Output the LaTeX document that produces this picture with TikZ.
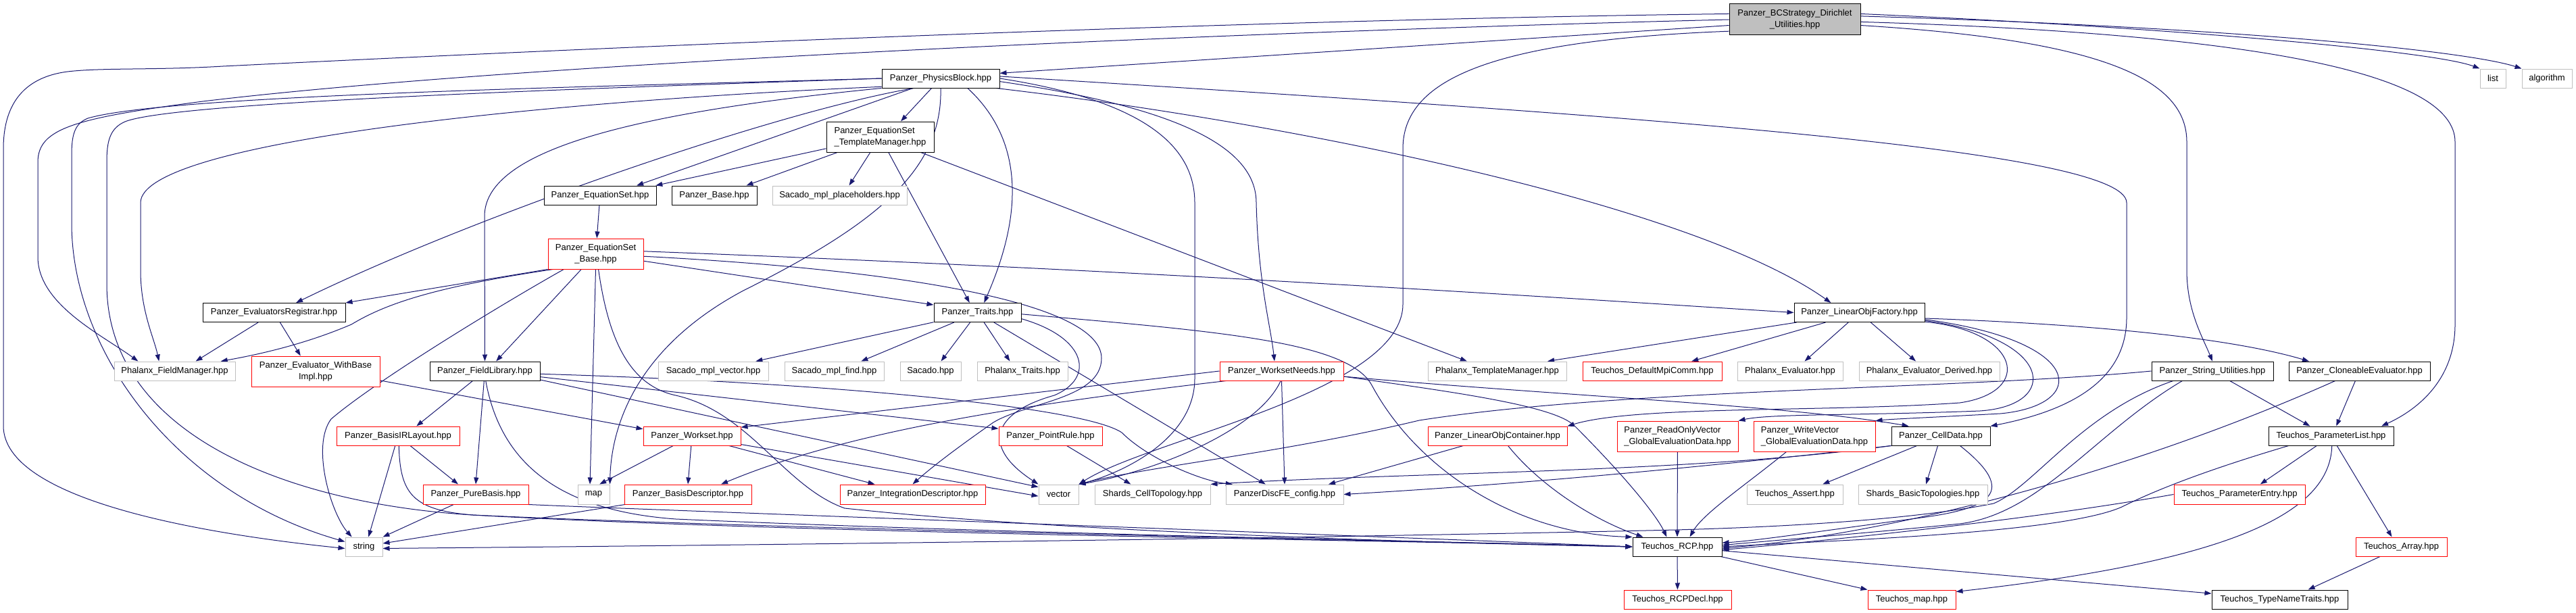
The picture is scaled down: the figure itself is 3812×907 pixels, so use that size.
\documentclass[tikz,border=0pt]{standalone}
\usepackage{fontspec}
\setmainfont{Liberation Sans}
\usetikzlibrary{arrows.meta}
\definecolor{edgec}{HTML}{191970}
\definecolor{grayb}{HTML}{BFBFBF}
\pgfdeclarelayer{back}
\pgfdeclarelayer{edges}
\pgfsetlayers{back,edges,main}
\begin{document}
\begin{tikzpicture}[x=1pt,y=-1pt,
  nd/.style={draw, line width=1pt, inner sep=0pt, minimum height=28pt, font=\fontsize{13}{17}\selectfont, align=center, fill=white},
  bk/.style={nd, draw=black},
  rd/.style={nd, draw=red},
  gy/.style={nd, draw=grayb},
  arr/.style={draw=edgec, line width=1pt, -{Triangle[length=10pt,width=7pt]}}]
\begin{pgfonlayer}{back}
\fill[white] (0,0) rectangle (3812,907);
\end{pgfonlayer}
% row 0
\node[bk, fill=grayb, minimum width=194pt, minimum height=46pt] (R) at (2656,29) {Panzer\_BCStrategy\_Dirichlet\\\_Utilities.hpp};
% row 1
\node[bk, minimum width=174pt] (PB) at (1392,116) {Panzer\_PhysicsBlock.hpp};
\node[gy, minimum width=38pt] (list) at (3689,116) {list};
\node[gy, minimum width=74pt] (algorithm) at (3769,116) {algorithm};
% row 2
\node[bk, minimum width=159pt, minimum height=45pt, align=left] (TM) at (1302.5,202.5) {Panzer\_EquationSet\\\_TemplateManager.hpp};
% row 3
\node[bk, minimum width=166pt] (ES) at (888,289) {Panzer\_EquationSet.hpp};
\node[bk, minimum width=126pt] (PBase) at (1057,289) {Panzer\_Base.hpp};
\node[gy, minimum width=199pt] (SMP) at (1242.5,289) {Sacado\_mpl\_placeholders.hpp};
% row 4
\node[rd, minimum width=141pt, minimum height=45pt] (ESB) at (881.5,375.5) {Panzer\_EquationSet\\\_Base.hpp};
% row 5
\node[bk, minimum width=211pt] (ER) at (405.5,462.5) {Panzer\_EvaluatorsRegistrar.hpp};
\node[bk, minimum width=129pt] (Traits) at (1446.5,462.5) {Panzer\_Traits.hpp};
\node[bk, minimum width=193pt] (LOF) at (2751.5,462.5) {Panzer\_LinearObjFactory.hpp};
% row 6
\node[gy, minimum width=179pt] (FM) at (258.5,549) {Phalanx\_FieldManager.hpp};
\node[rd, minimum width=190pt, minimum height=45pt] (EWB) at (467,549.5) {Panzer\_Evaluator\_WithBase\\Impl.hpp};
\node[bk, minimum width=163pt] (FL) at (717.5,549) {Panzer\_FieldLibrary.hpp};
\node[gy, minimum width=163pt] (SMV) at (1055.5,549) {Sacado\_mpl\_vector.hpp};
\node[gy, minimum width=147pt] (SMF) at (1234.5,549) {Sacado\_mpl\_find.hpp};
\node[gy, minimum width=90pt] (Sacado) at (1377,549) {Sacado.hpp};
\node[gy, minimum width=134pt] (PT) at (1513,549) {Phalanx\_Traits.hpp};
\node[rd, minimum width=183pt] (WN) at (1896.5,549) {Panzer\_WorksetNeeds.hpp};
\node[gy, minimum width=205pt] (PTM) at (2215.5,549) {Phalanx\_TemplateManager.hpp};
\node[rd, minimum width=206pt] (DMC) at (2445,549) {Teuchos\_DefaultMpiComm.hpp};
\node[gy, minimum width=156pt] (PE) at (2649,549) {Phalanx\_Evaluator.hpp};
\node[gy, minimum width=208pt] (PED) at (2855,549) {Phalanx\_Evaluator\_Derived.hpp};
\node[bk, minimum width=180pt] (SU) at (3274,549) {Panzer\_String\_Utilities.hpp};
\node[bk, minimum width=209pt] (CE) at (3491.5,549) {Panzer\_CloneableEvaluator.hpp};
% row 7
\node[rd, minimum width=182pt] (BIR) at (589,645) {Panzer\_BasisIRLayout.hpp};
\node[rd, minimum width=144pt] (WS) at (1024,645) {Panzer\_Workset.hpp};
\node[rd, minimum width=153pt] (PR) at (1554.5,645) {Panzer\_PointRule.hpp};
\node[rd, minimum width=206pt] (LOC) at (2216,645) {Panzer\_LinearObjContainer.hpp};
\node[rd, minimum width=179pt, minimum height=45pt, align=left] (RO) at (2482.5,645.5) {Panzer\_ReadOnlyVector\\\_GlobalEvaluationData.hpp};
\node[rd, minimum width=180pt, minimum height=45pt, align=left] (WV) at (2685,645.5) {Panzer\_WriteVector\\\_GlobalEvaluationData.hpp};
\node[bk, minimum width=146pt] (CD) at (2872,645) {Panzer\_CellData.hpp};
\node[bk, minimum width=185pt] (PL) at (3449.5,645) {Teuchos\_ParameterList.hpp};
% row 8
\node[rd, minimum width=156pt, minimum height=29pt] (PBas) at (704,731.5) {Panzer\_PureBasis.hpp};
\node[gy, minimum width=47pt, minimum height=29pt] (map) at (878.5,731.5) {map};
\node[rd, minimum width=188pt, minimum height=29pt] (BD) at (1018,731.5) {Panzer\_BasisDescriptor.hpp};
\node[rd, minimum width=215pt, minimum height=29pt] (ID) at (1350.5,731.5) {Panzer\_IntegrationDescriptor.hpp};
\node[gy, minimum width=59pt, minimum height=29pt] (vector) at (1566.5,731.5) {vector};
\node[gy, minimum width=171pt, minimum height=29pt] (SCT) at (1705.5,731.5) {Shards\_CellTopology.hpp};
\node[gy, minimum width=174pt, minimum height=29pt] (DFE) at (1901,731.5) {PanzerDiscFE\_config.hpp};
\node[gy, minimum width=142pt, minimum height=29pt] (TA) at (2656,731.5) {Teuchos\_Assert.hpp};
\node[gy, minimum width=191pt, minimum height=29pt] (SBT) at (2845.5,731.5) {Shards\_BasicTopologies.hpp};
\node[rd, minimum width=194pt, minimum height=29pt] (PEn) at (3314,731.5) {Teuchos\_ParameterEntry.hpp};
% row 9
\node[gy, minimum width=55pt] (string) at (538.5,809) {string};
\node[bk, minimum width=132pt] (RCP) at (2482,809) {Teuchos\_RCP.hpp};
\node[rd, minimum width=135pt] (Arr) at (3553.5,809) {Teuchos\_Array.hpp};
% row 10
\node[rd, minimum width=159pt] (RCPD) at (2482.5,887) {Teuchos\_RCPDecl.hpp};
\node[rd, minimum width=130pt] (TMap) at (2829,887) {Teuchos\_map.hpp};
\node[bk, minimum width=201pt] (TNT) at (3373.5,887) {Teuchos\_TypeNameTraits.hpp};

\begin{pgfonlayer}{edges}
% root
\draw[arr] (R.185) -- (PB.5);
\draw[arr] (R.175) .. controls (1800,30) and (900,70) .. (330,98) .. controls (230,104) and (150,100) .. (100,106) .. controls (30,115) and (5,160) .. (5,220) -- (5,630) .. controls (5,740) and (300,790) .. (string.185);
\draw[arr] (R.180) .. controls (1900,45) and (800,90) .. (300,150) .. controls (110,175) and (56,190) .. (56,240) -- (56,380) .. controls (56,450) and (150,495) .. (FM.165);
\draw[arr] (R.190) .. controls (2200,60) and (2076,120) .. (2076,220) -- (2076,450) .. controls (2076,580) and (1700,650) .. (vector.north east);
\draw[arr] (R.5) .. controls (3200,40) and (3600,75) .. (list.north west);
\draw[arr] (R.3) .. controls (3300,40) and (3650,75) .. (algorithm.north west);
\draw[arr] (R.355) .. controls (3120,60) and (3236,120) .. (3236,210) -- (3236,400) .. controls (3236,460) and (3260,500) .. (SU.north);
\draw[arr] (R.358) .. controls (3350,50) and (3633,110) .. (3633,210) -- (3633,480) .. controls (3633,560) and (3580,605) .. (PL.11);
% physics block
\draw[arr] (PB.west) .. controls (900,128) and (250,140) .. (130,175) .. controls (110,183) and (106,200) .. (106,230) -- (106,330) .. controls (106,520) and (260,730) .. (string.165);
\draw[arr] (PB.west) .. controls (900,130) and (260,150) .. (185,180) .. controls (162,190) and (158,210) .. (158,240) -- (158,420) .. controls (158,640) and (420,745) .. (700,762) .. controls (1200,790) and (2100,800) .. (RCP.west);
\draw[arr] (PB.188) .. controls (800,150) and (208,210) .. (208,300) -- (208,400) .. controls (208,460) and (228,500) .. (FM.148);
\draw[arr] (PB.south west) .. controls (900,170) and (717,230) .. (717,320) -- (FL.north);
\draw[arr] (PB.200) .. controls (1150,165) and (700,320) .. (ER.24);
\draw[arr] (PB) -- (ES.15);
\draw[arr] (PB) -- (TM.37);
\draw[arr] (PB.south) .. controls (1395,250) and (1300,330) .. (1100,430) .. controls (950,510) and (905,620) .. (map.north east);
\draw[arr] (PB.340) .. controls (1540,230) and (1490,370) .. (Traits.56);
\draw[arr] (PB.east) .. controls (1700,150) and (1768,220) .. (1768,300) -- (1768,560) .. controls (1768,650) and (1660,700) .. (vector.north east);
\draw[arr] (PB.357) .. controls (1750,160) and (1859,220) .. (1859,300) .. controls (1862,420) and (1880,480) .. (WN.126);
\draw[arr] (PB.350) .. controls (1900,180) and (2500,300) .. (LOF.161);
\draw[arr] (PB.2) .. controls (2400,170) and (3147,220) .. (3147,300) -- (3147,470) .. controls (3147,570) and (3050,610) .. (CD.north east);
% template manager
\draw[arr] (TM) -- (ES.10);
\draw[arr] (TM) -- (PBase.17);
\draw[arr] (TM) -- (SMP.46);
\draw[arr] (TM) -- (Traits.129);
\draw[arr] (TM) -- (PTM.162);
% equation set
\draw[arr] (ES) -- (ESB);
% equation set base
\draw[arr] (ESB.south west) -- (ER.north east);
\draw[arr] (ESB.200) .. controls (640,425) and (570,450) .. (520,480) .. controls (450,510) and (380,525) .. (FM.12);
\draw[arr] (ESB.206) .. controls (760,440) and (560,560) .. (490,620) .. controls (460,660) and (490,760) .. (string.141);
\draw[arr] (ESB) -- (FL.41);
\draw[arr] (ESB.south) -- (map.110);
\draw[arr] (ESB.280) .. controls (900,500) and (930,570) .. (1000,585) .. controls (1110,610) and (1160,720) .. (1250,752) .. controls (1600,790) and (2200,805) .. (RCP.west);
\draw[arr] (ESB) -- (Traits.170);
\draw[arr] (ESB.3) .. controls (1700,400) and (2300,440) .. (LOF.west);
\draw[arr] (ESB.357) .. controls (1350,400) and (1630,450) .. (1630,530) .. controls (1630,590) and (1520,595) .. (1470,625) .. controls (1420,660) and (1380,690) .. (ID.north);
% traits
\draw[arr] (Traits) -- (SMV.13);
\draw[arr] (Traits) -- (SMF.20);
\draw[arr] (Traits) -- (Sacado.43);
\draw[arr] (Traits) -- (PT.142);
\draw[arr] (Traits.358) .. controls (1800,490) and (1995,505) .. (2030,570) .. controls (2100,700) and (2250,790) .. (RCP.north west);
\draw[arr] (Traits) -- (DFE.152);
\draw[arr] (Traits.352) .. controls (1610,500) and (1620,560) .. (1560,585) .. controls (1470,610) and (1450,660) .. (vector.north west);
% field library
\draw[arr] (FL) -- (BIR.28);
\draw[arr] (FL) -- (PBas.north);
\draw[arr] (FL.275) .. controls (740,680) and (820,755) .. (1000,768) .. controls (1500,790) and (2100,800) .. (RCP.west);
\draw[arr] (FL.354) -- (PR.172);
\draw[arr] (FL.351) -- (vector.160);
\draw[arr] (FL.357) .. controls (1200,565) and (1600,600) .. (1660,640) .. controls (1700,680) and (1780,712) .. (DFE.169);
% evaluators registrar
\draw[arr] (ER) -- (FM.25);
\draw[arr] (ER) -- (EWB.134);
\draw[arr] (EWB.352) -- (WS.172);
% basis IR layout
\draw[arr] (BIR) -- (string.65);
\draw[arr] (BIR) -- (PBas.150);
\draw[arr] (BIR.275) .. controls (592,730) and (610,755) .. (700,762) .. controls (1200,785) and (2100,800) .. (RCP.west);
% pure basis
\draw[arr] (PBas) -- (string.north east);
\draw[arr] (PBas.south east) .. controls (900,752) and (2000,792) .. (RCP.west);
% basis descriptor
\draw[arr] (BD) -- (string.10);
% workset
\draw[arr] (WS) -- (map.60);
\draw[arr] (WS) -- (BD.north);
\draw[arr] (WS) -- (ID.165);
\draw[arr] (WS) -- (vector.185);
% point rule
\draw[arr] (PR) -- (SCT.155);
% workset needs
\draw[arr] (WN.west) -- (WS.10);
\draw[arr] (WN.190) .. controls (1500,600) and (1250,640) .. (BD.17);
\draw[arr] (WN.265) .. controls (1860,640) and (1700,700) .. (vector.north east);
\draw[arr] (WN.south) -- (DFE.north);
\draw[arr] (WN.355) .. controls (2300,585) and (2650,600) .. (CD.163);
\draw[arr] (WN.355) .. controls (2150,580) and (2300,600) .. (2330,630) .. controls (2400,700) and (2450,760) .. (RCP.137);
% linear obj factory
\draw[arr] (LOF) -- (PTM.11);
\draw[arr] (LOF) -- (DMC.14);
\draw[arr] (LOF) -- (PE.34);
\draw[arr] (LOF) -- (PED.144);
\draw[arr] (LOF.355) .. controls (3100,480) and (3300,500) .. (CE.169);
\draw[arr] (LOF.352) .. controls (2990,490) and (3010,580) .. (2900,596) .. controls (2700,610) and (2420,600) .. (LOC.north east);
\draw[arr] (LOF.353) .. controls (3040,500) and (3050,600) .. (2930,608) .. controls (2750,615) and (2620,612) .. (RO.north east);
\draw[arr] (LOF.354) .. controls (3090,505) and (3090,600) .. (2960,612) .. controls (2850,618) and (2800,620) .. (WV.north east);
% cell data
\draw[arr] (CD.south west) .. controls (2500,700) and (2100,698) .. (SCT.north east);
\draw[arr] (CD.south west) .. controls (2400,705) and (2150,722) .. (DFE.east);
\draw[arr] (CD) -- (TA.20);
\draw[arr] (CD) -- (SBT.73);
\draw[arr] (CD.333) .. controls (2990,730) and (2940,752) .. (2850,765) .. controls (2700,785) and (2600,800) .. (RCP.5);
% linear obj container, vectors
\draw[arr] (LOC) -- (DFE.13);
\draw[arr] (LOC.317) .. controls (2280,720) and (2360,770) .. (RCP.164);
\draw[arr] (RO) -- (RCP.north);
\draw[arr] (WV.209) .. controls (2580,720) and (2520,760) .. (RCP.38);
% string utilities
\draw[arr] (SU) -- (PL.155);
\draw[arr] (SU.west) .. controls (2900,576) and (2400,575) .. (2100,622) .. controls (1900,670) and (1700,690) .. (vector.north east);
\draw[arr] (SU.194) .. controls (3080,610) and (3010,720) .. (2950,745) .. controls (2800,775) and (2550,782) .. (2480,784) .. controls (2000,795) and (1200,806) .. (string.355);
\draw[arr] (SU.198) .. controls (3100,640) and (3020,760) .. (2900,775) .. controls (2750,790) and (2620,800) .. (RCP.2);
% cloneable evaluator
\draw[arr] (CE) -- (PL.62);
\draw[arr] (CE.202) .. controls (3150,700) and (2800,790) .. (RCP.358);
% parameter list
\draw[arr] (PL) -- (PEn.26);
\draw[arr] (PL) -- (Arr.134);
\draw[arr] (PL.275) .. controls (3448,760) and (3300,830) .. (TMap.10);
\draw[arr] (PL.193) .. controls (3250,700) and (3180,730) .. (3140,750) .. controls (3050,790) and (2700,800) .. (RCP.0);
\draw[arr] (PEn.west) .. controls (3000,770) and (2700,800) .. (RCP.356);
\draw[arr] (Arr) -- (TNT.19);
% RCP
\draw[arr] (RCP) -- (RCPD);
\draw[arr] (RCP) -- (TMap.north west);
\draw[arr] (RCP) -- (TNT.175);
\end{pgfonlayer}
\end{tikzpicture}
\end{document}
